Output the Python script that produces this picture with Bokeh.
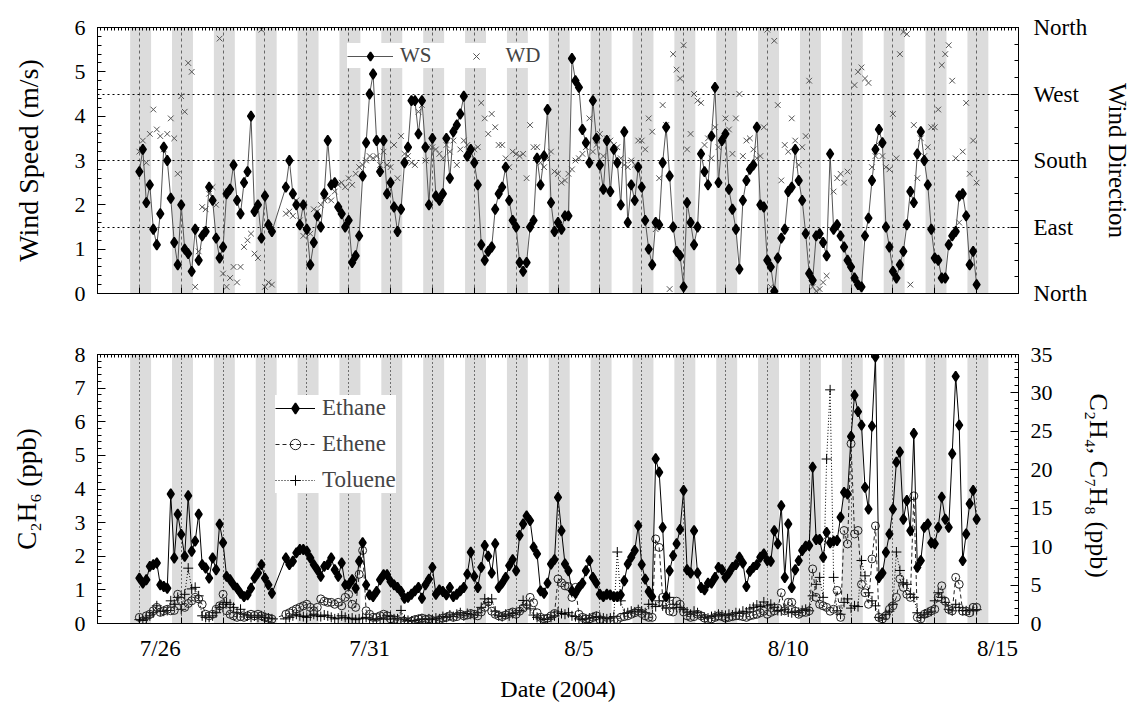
import math
from bokeh.plotting import figure
from bokeh.models import (Range1d, LinearAxis, FixedTicker, Legend, LegendItem, Grid)
from bokeh.layouts import column
from bokeh.embed import file_html
from bokeh.resources import INLINE

nan = float("nan")

# ---------------- data ----------------
STEP_H = 2                      # hours between samples, first sample 7/26 00:00
MIDNIGHTS = list(range(0, 21))  # days after 7/26 00:00
NIGHT_FROM, NIGHT_TO = -0.22, 0.28
LABEL_DAYS = [0, 5, 10, 15, 20]
DAY_LABELS = ["7/26", "7/31", "8/5", "8/10", "8/15"]

WS = [  # wind speed, m/s
    2.75, 3.25, 2.05, 2.45, 1.45, 1.1, 1.8, 3.3, 3.0, 2.15, 1.15, 0.65,
    2.0, 1.0, 0.9, 0.5, 1.45, 0.75, 1.3, 1.4, 2.4, 2.1, 1.25, 0.8,
    1.05, 2.25, 2.35, 2.9, 2.1, 1.8, 2.5, 2.75, 4.0, 1.85, 2.0, 1.25,
    2.2, 1.55, 1.4, nan, nan, nan, 2.4, 3.0, 2.25, 2.0, 1.55, 2.0,
    1.45, 0.65, 1.15, 1.75, 1.5, 2.25, 3.45, 2.45, 2.5, 1.95, 1.8, 1.5,
    1.65, 0.7, 0.85, 1.3, 2.65, 3.4, 4.5, 4.95, 3.45, 2.75, 3.45, 2.25,
    2.5, 1.95, 1.4, 1.9, 2.95, 3.3, 4.35, 4.35, 3.6, 4.35, 3.3, 2.0,
    3.5, 2.2, 2.1, 2.25, 3.5, 2.6, 3.65, 3.8, 4.05, 4.45, 3.1, 3.25,
    2.95, 2.45, 1.1, 0.75, 0.95, 1.05, 1.9, 2.25, 2.4, 2.85, 2.1, 1.65,
    1.5, 0.7, 0.5, 0.7, 1.5, 1.65, 3.05, 2.45, 3.1, 4.15, 2.05, 1.4,
    1.6, 1.45, 1.75, 1.75, 5.3, 4.8, 4.65, 3.7, 3.4, 2.95, 4.35, 3.5,
    2.9, 2.35, 3.45, 2.3, 3.25, 2.95, 2.0, 3.65, 1.6, 2.45, 2.1, 2.85,
    2.4, 1.65, 1.0, 0.65, 1.6, 1.55, 2.95, 3.75, 2.65, 1.5, 0.95, 0.85,
    0.15, 2.05, 1.6, 1.1, 1.5, 3.15, 2.75, 2.45, 3.55, 4.65, 2.5, 3.45,
    3.6, 2.35, 1.9, 1.45, 0.55, 2.1, 2.55, 2.8, 2.9, 3.75, 2.0, 1.95,
    0.75, 0.6, 0.05, 0.8, 1.25, 1.45, 2.3, 2.4, 3.25, 2.55, 2.1, 1.35,
    0.45, 0.3, 1.3, 1.35, 1.15, 0.85, 3.15, 1.45, 1.55, 1.3, 1.05, 0.75,
    0.6, 0.35, 0.2, 0.15, 1.3, 1.7, 2.55, 3.25, 3.7, 3.4, 1.5, 1.05,
    0.5, 0.35, 0.65, 0.95, 1.55, 2.3, 2.05, 3.15, 3.65, 3.0, 2.45, 1.45,
    0.8, 0.75, 0.35, 0.35, 1.1, 1.3, 1.4, 2.2, 2.25, 1.75, 0.65, 0.95,
    0.2,
]

WD = [  # wind direction, degrees
    192, 207, 177, 216, 249, 222, 213, 195, 216, 237, 210, 162,
    267, 246, 312, 300, 9, 57, 117, 114, 135, 144, 120, 345,
    27, 9, 21, 36, 15, 36, 63, 72, 81, 54, 48, 357,
    9, 15, 12, nan, nan, nan, 108, 111, 105, 126, 99, 78,
    84, 81, 114, 111, 120, 126, 129, 126, 138, 147, 150, 144,
    156, 147, 162, 171, 174, 180, 186, 183, 186, 174, 192, 174,
    171, 201, 156, 213, 189, 186, 177, 174, 246, 255, 180, 198,
    198, 195, 189, 183, 201, 192, 207, 174, 195, 207, 201, 189,
    195, 198, 258, 237, 216, 243, 225, 201, 201, 183, 171, 192,
    189, 186, 189, 156, 228, 198, 198, 177, 171, 183, 192, 165,
    162, 150, 153, 162, 168, 180, 183, 189, 198, 237, 192, 201,
    216, 186, 210, 207, 201, 198, 183, 174, 171, 180, 174, 207,
    207, 195, 237, 219, 87, 156, 255, 228, 6, 324, 303, 291,
    336, 195, 216, 270, 261, 258, 201, 210, 183, 225, 198, 207,
    237, 222, 189, 237, 270, 186, 207, 210, 195, 183, 186, 225,
    357, 9, 342, 255, 153, 201, 192, 237, 207, 174, 198, 213,
    288, 9, 3, 6, 15, 24, nan, 138, 156, 162, 150, 165,
    nan, 282, 300, 306, 291, 285, 171, 186, 201, 186, 171, 168,
    243, 183, 324, 354, 351, 12, 228, 156, 210, 186, 198, 225,
    225, 249, 309, 324, 336, 288, 183, 96, 192, 258, 162, 207,
    150,
]

ETHANE = [  # C2H6, ppb
    1.35, 1.2, 1.3, 1.7, 1.75, 1.8, 1.15, 1.1, 1.05, 3.85, 1.95, 3.25,
    2.65, 2.0, 3.8, 2.15, 2.45, 3.25, 1.75, 1.65, 1.35, 1.95, 1.6, 2.95,
    2.4, 1.4, 1.3, 1.15, 1.05, 0.9, 0.8, 0.85, 1.05, 1.35, 1.5, 1.75,
    1.35, 1.15, 0.9, nan, nan, nan, 1.95, 1.75, 1.85, 2.1, 2.2, 2.2,
    2.15, 1.95, 1.75, 1.6, 1.4, 1.7, 1.75, 1.95, 1.6, 1.4, 1.8, 1.15,
    1.15, 1.3, 1.05, 1.85, 2.4, 1.15, 0.85, 0.8, 0.95, 1.3, 1.45, 1.45,
    1.25, 1.15, 1.07, 0.95, 0.75, 0.78, 0.87, 0.97, 1.07, 0.75, 1.15, 1.32,
    1.67, 0.87, 1.0, 0.95, 0.85, 1.07, 0.8, 0.87, 0.97, 1.07, 1.47, 2.12,
    1.4, 1.07, 1.67, 2.32, 2.0, 1.5, 2.37, 1.07, 1.2, 1.37, 1.72, 1.9,
    1.57, 2.62, 2.96, 3.2, 3.06, 2.27, 2.07, 0.97, 0.9, 1.2, 1.77, 1.9,
    3.75, 2.76, 1.77, 1.57, 0.97, 0.9, 1.07, 1.2, 1.57, 1.87, 1.37, 1.2,
    0.87, 0.8, 0.87, 0.85, 0.8, 0.8, 0.85, 1.27, 1.77, 1.97, 2.17, 2.91,
    1.75, 1.32, 0.95, 0.8, 4.9, 4.5, 2.86, 0.8, 1.57, 2.02, 2.37, 2.8,
    3.96, 1.6, 1.5, 2.76, 1.5, 1.07, 1.0, 1.2, 1.2, 1.37, 1.67, 1.6,
    1.37, 1.5, 1.67, 1.75, 1.97, 1.8, 1.1, 1.55, 1.67, 1.75, 1.97, 2.07,
    1.87, 1.85, 2.76, 2.37, 3.5, 1.37, 2.96, 1.07, 1.6, 1.87, 2.17, 2.3,
    2.32, 4.65, 2.5, 2.5, 1.97, 2.71, 2.4, 2.45, 2.47, 3.16, 3.9, 3.85,
    5.56, 6.79, 6.3, 5.9, 4.05, 3.4, 5.87, 7.93, 1.37, 1.5, 2.12, 2.66,
    3.4, 4.8, 5.1, 3.1, 3.66, 2.76, 5.65, 1.67, 1.87, 2.86, 2.96, 2.4,
    2.37, 2.86, 3.76, 3.1, 2.86, 5.05, 7.35, 5.9, 1.87, 2.66, 3.56, 3.96,
    3.1,
]

ETHENE = [  # C2H4, ppb
    0.8, 0.35, 1.0, 1.2, 1.65, 2.1, 1.45, 1.65, 1.85, 1.65, 1.7, 3.8,
    2.95, 2.1, 2.6, 2.95, 3.4, 3.2, 2.5, 1.2, 1.0, 1.2, 1.85, 2.3,
    3.8, 1.65, 1.2, 1.0, 0.8, 0.9, 0.8, 1.0, 1.2, 1.0, 1.2, 1.0,
    0.8, 0.7, 0.57, nan, nan, nan, 1.2, 1.4, 1.65, 1.9, 2.1, 2.3,
    2.5, 2.1, 1.65, 2.1, 3.2, 2.9, 2.75, 2.75, 2.5, 2.75, 2.3, 3.4,
    3.8, 2.5, 2.1, 6.4, 9.5, 1.65, 1.2, 0.8, 0.8, 1.0, 1.2, 1.0,
    0.6, 0.5, 0.4, 0.3, 0.3, 0.2, 0.3, 0.5, 0.6, 0.7, 0.5, 0.6,
    0.4, 0.3, 0.5, 0.7, 0.8, 1.0, 0.8, 0.9, 1.2, 1.0, 1.1, 1.3,
    1.2, 1.0, 1.5, 2.1, 2.8, 1.6, 1.2, 1.0, 0.9, 1.1, 1.3, 1.5,
    1.2, 1.6, 2.0, 2.5, 3.4, 2.7, 1.4, 0.8, 0.6, 0.7, 1.0, 1.3,
    5.8, 5.3, 4.9, 4.8, 3.4, 4.7, 1.2, 0.8, 0.6, 0.6, 0.8, 1.0,
    0.5, 0.4, 0.3, 0.3, 0.4, 0.5, 0.8, 0.9, 1.0, 1.2, 1.4, 1.6,
    1.3, 1.0, 0.8, 0.8, 11.0, 9.9, 3.4, 2.5, 1.6, 1.5, 2.9, 2.5,
    1.5, 1.0, 0.8, 0.9, 1.2, 1.0, 0.7, 0.5, 0.6, 0.8, 1.0, 0.9,
    0.7, 0.8, 0.9, 1.0, 1.0, 0.9, 0.8, 1.0, 1.1, 1.2, 1.4, 1.6,
    1.2, 1.45, 1.65, 2.0, 4.0, 1.65, 2.75, 2.75, 1.6, 1.2, 1.45, 1.45,
    1.65, 7.1, 3.4, 2.5, 2.3, 2.1, 1.6, 1.85, 4.3, 0.8, 12.1, 10.35,
    23.4, 11.65, 12.1, 5.1, 4.0, 2.5, 8.4, 12.7, 0.8, 0.6, 1.0, 1.85,
    2.3, 3.4, 5.8, 4.7, 3.8, 3.4, 16.6, 0.8, 0.6, 1.2, 1.4, 1.65,
    1.85, 3.4, 4.9, 2.9, 1.85, 1.65, 6.0, 5.1, 1.6, 1.6, 1.4, 2.1,
    2.1,
]

TOLUENE = [  # C7H8, ppb
    0.5, 0.4, 0.7, 1.0, 1.4, 2.3, 1.6, 1.6, 1.7, 2.95, 2.5, 3.4,
    1.85, 3.8, 7.2, 4.5, 4.7, 3.6, 1.0, 0.8, 0.8, 1.0, 1.4, 2.1,
    2.5, 2.75, 2.5, 2.1, 1.4, 1.85, 1.2, 1.0, 0.8, 1.0, 0.8, 1.0,
    0.8, 0.7, 0.6, nan, nan, nan, 0.6, 0.8, 1.0, 1.2, 1.0, 0.9,
    0.8, 1.0, 1.2, 1.0, 0.9, 1.1, 1.0, 0.8, 0.6, 0.7, 1.0, 0.8,
    0.6, 0.7, 0.5, 0.6, 0.7, 0.8, 0.6, 0.5, 0.6, 0.7, 0.6, 1.0,
    0.9, 0.6, 0.6, 1.7, 0.5, 0.4, 0.3, 0.4, 0.5, 0.6, 0.5, 0.6,
    0.5, 0.7, 0.6, 0.9, 0.8, 1.1, 0.9, 1.2, 1.4, 1.0, 1.3, 1.2,
    1.1, 1.4, 2.1, 3.2, 2.75, 3.2, 1.6, 1.0, 0.9, 1.2, 1.0, 1.3,
    1.4, 1.7, 3.0, 2.4, 1.9, 1.1, 0.8, 0.6, 0.5, 0.6, 0.8, 1.0,
    1.5, 1.3, 1.2, 1.4, 1.0, 0.9, 0.6, 0.5, 0.6, 0.7, 0.8, 0.9,
    0.8, 0.7, 0.6, 0.7, 0.9, 9.3, 2.95, 1.3, 1.4, 1.6, 1.5, 1.8,
    1.6, 1.4, 2.5, 2.5, 2.2, 2.95, 2.3, 2.0, 3.4, 2.5, 2.1, 2.1,
    1.8, 1.5, 1.2, 1.6, 1.4, 1.0, 0.8, 0.7, 0.9, 1.0, 1.2, 1.1,
    1.0, 1.2, 1.1, 1.4, 1.3, 1.6, 1.5, 1.9, 2.1, 2.4, 2.2, 2.8,
    2.3, 2.5, 2.1, 1.7, 1.65, 1.85, 1.5, 1.4, 1.6, 1.45, 1.7, 1.85,
    1.65, 3.6, 5.1, 6.0, 3.4, 21.4, 30.4, 6.0, 1.65, 1.2, 2.75, 3.2,
    2.0, 2.3, 2.2, 8.2, 6.2, 4.0, 2.95, 2.3, 0.8, 0.6, 1.2, 1.6,
    2.5, 9.3, 6.9, 5.3, 5.1, 3.8, 3.4, 1.4, 0.8, 1.2, 1.4, 1.6,
    2.95, 4.0, 3.4, 2.75, 1.85, 1.65, 2.5, 2.1, 1.7, 1.65, 1.75, 1.7,
    1.8,
]

# ---------------- helpers ----------------
FONT = "Liberation Serif"
T = [i * STEP_H / 24.0 for i in range(len(WS))]
TWO_HOURLY = [i * STEP_H / 24.0 for i in range(-12, 253)]


def valid(xs, ys):
    pts = [(x, y) for x, y in zip(xs, ys) if not math.isnan(y)]
    return [p[0] for p in pts], [p[1] for p in pts]


def style_axis(ax, size="22px", label_size="26px"):
    ax.major_label_text_font = FONT
    ax.major_label_text_font_size = size
    ax.major_label_text_color = "black"
    ax.axis_label_text_font = FONT
    ax.axis_label_text_font_style = "normal"
    ax.axis_label_text_font_size = label_size
    ax.axis_label_text_color = "black"
    ax.axis_line_color = "black"
    ax.major_tick_line_color = "black"
    ax.minor_tick_line_color = "black"
    ax.major_tick_out = 0
    ax.minor_tick_out = 0


def add_x_axes(p, show_labels):
    label_pos = [d + 0.5 for d in LABEL_DAYS]
    if show_labels:
        below = LinearAxis(ticker=FixedTicker(ticks=label_pos, minor_ticks=MIDNIGHTS))
        style_axis(below, size="23px")
        below.major_label_overrides = {lp: lab for lp, lab in zip(label_pos, DAY_LABELS)}
        below.axis_label = "Date (2004)"
        below.axis_label_text_font_size = "24px"
        below.axis_label_standoff = 12
        below.major_label_standoff = 12
    else:
        below = LinearAxis(ticker=FixedTicker(ticks=[], minor_ticks=MIDNIGHTS))
        style_axis(below)
    below.major_tick_in = 0
    below.minor_tick_in = 6
    p.add_layout(below, "below")
    above = LinearAxis(ticker=FixedTicker(ticks=[], minor_ticks=TWO_HOURLY))
    style_axis(above)
    above.minor_tick_in = 3
    p.add_layout(above, "above")


def base_figure(frame_h, ymax, top, bottom):
    p = figure(frame_width=921, frame_height=frame_h,
               x_range=Range1d(-1, 21), y_range=Range1d(0, ymax),
               x_axis_type=None, y_axis_type=None,
               output_backend="svg", toolbar_location=None,
               min_border_left=97, min_border_right=113,
               min_border_top=top, min_border_bottom=bottom)
    p.outline_line_color = "black"
    p.outline_line_width = 1
    p.outline_line_alpha = 1
    p.background_fill_color = "white"
    p.border_fill_color = "white"
    p.quad(left=[m + NIGHT_FROM for m in MIDNIGHTS], right=[m + NIGHT_TO for m in MIDNIGHTS],
           bottom=0, top=ymax, fill_color="#dcdcdc", line_color=None, level="image")
    return p


# ---------------- top panel ----------------
p1 = base_figure(266, 6, 27, 25)
p1.extra_y_ranges = {"wd": Range1d(0, 360)}
p1.add_layout(Grid(dimension=0, ticker=FixedTicker(ticks=MIDNIGHTS),
                   grid_line_color="#666666", grid_line_dash="3 3", grid_line_width=1))
p1.add_layout(Grid(dimension=1, ticker=FixedTicker(ticks=[1.5, 3, 4.5]),
                   grid_line_color="black", grid_line_dash="2 3", grid_line_width=1))

axl = LinearAxis(ticker=FixedTicker(ticks=list(range(7)), minor_ticks=[i * 0.2 for i in range(31)]),
                 axis_label="Wind Speed (m/s)")
style_axis(axl, label_size="28px")
axl.major_tick_in = 8
axl.minor_tick_in = 4
axl.major_label_standoff = 12
axl.axis_label_standoff = 28
p1.add_layout(axl, "left")

axr = LinearAxis(y_range_name="wd",
                 ticker=FixedTicker(ticks=[0, 90, 180, 270, 360], minor_ticks=[i * 22.5 for i in range(17)]),
                 axis_label="Wind Direction",
                 major_label_overrides={0: "North", 90: "East", 180: "South", 270: "West", 360: "North"})
style_axis(axr, size="23px", label_size="25px")
axr.major_tick_in = 8
axr.minor_tick_in = 4
axr.major_label_standoff = 15
axr.axis_label_standoff = 14
p1.add_layout(axr, "right")
add_x_axes(p1, False)

wx, wy = valid(T, WD)
wd_pts = p1.scatter(wx, wy, y_range_name="wd", marker="x", size=8, line_color="#555555", line_width=1)
sx, sy = valid(T, WS)
ws_line = p1.line(sx, sy, line_color="#555555", line_width=1)
ws_pts = p1.scatter(sx, sy, marker="diamond", size=10, line_width=1.6,
                    fill_color="black", line_color="black")

leg1 = Legend(items=[LegendItem(label="WS", renderers=[ws_line, ws_pts]),
                     LegendItem(label="WD", renderers=[wd_pts])],
              orientation="horizontal", location=(250, 225),
              glyph_width=46, glyph_height=22, label_height=22, label_standoff=7, spacing=21,
              padding=9, margin=0, label_text_font=FONT, label_text_font_size="21px",
              background_fill_color="white", background_fill_alpha=1, border_line_color=None)
p1.add_layout(leg1)

# ---------------- bottom panel ----------------
p2 = base_figure(269, 8, 36, 76)
p2.extra_y_ranges = {"r": Range1d(0, 35)}
p2.add_layout(Grid(dimension=0, ticker=FixedTicker(ticks=MIDNIGHTS),
                   grid_line_color="black", grid_line_dash="1 3", grid_line_width=1))

bl = LinearAxis(ticker=FixedTicker(ticks=list(range(9)), minor_ticks=[i * 0.2 for i in range(41)]),
                axis_label="C\u2082H\u2086 (ppb)")
style_axis(bl, label_size="27px")
bl.major_tick_in = 8
bl.minor_tick_in = 4
bl.major_label_standoff = 12
bl.axis_label_standoff = 30
p2.add_layout(bl, "left")

br = LinearAxis(y_range_name="r",
                ticker=FixedTicker(ticks=list(range(0, 36, 5)), minor_ticks=list(range(36))),
                axis_label="C\u2082H\u2084, C\u2087H\u2088  (ppb)")
style_axis(br, label_size="26px")
br.major_tick_in = 8
br.minor_tick_in = 4
br.major_label_standoff = 12
br.axis_label_standoff = 28
p2.add_layout(br, "right")
add_x_axes(p2, True)

tx, ty = valid(T, TOLUENE)
tol_line = p2.line(tx, ty, y_range_name="r", line_color="black", line_width=1, line_dash="1 2")
tol_pts = p2.scatter(tx, ty, y_range_name="r", marker="cross", size=10, line_color="black", line_width=1)
ex, ey = valid(T, ETHENE)
eth_line = p2.line(ex, ey, y_range_name="r", line_color="#222222", line_width=1, line_dash="4 3")
eth_pts = p2.scatter(ex, ey, y_range_name="r", marker="circle", size=8,
                     fill_color=None, line_color="#222222", line_width=1)
ax_, ay_ = valid(T, ETHANE)
ea_line = p2.line(ax_, ay_, line_color="black", line_width=1)
ea_pts = p2.scatter(ax_, ay_, marker="diamond", size=10, line_width=1.6,
                    fill_color="black", line_color="black")

leg2 = Legend(items=[LegendItem(label="Ethane", renderers=[ea_line, ea_pts]),
                     LegendItem(label="Ethene", renderers=[eth_line, eth_pts]),
                     LegendItem(label="Toluene", renderers=[tol_line, tol_pts])],
              orientation="vertical", location=(178, 130),
              glyph_width=40, glyph_height=26, label_height=26, label_standoff=7, spacing=10,
              padding=8, margin=0, label_text_font=FONT, label_text_font_size="23px",
              background_fill_color="white", background_fill_alpha=1, border_line_color=None)
p2.add_layout(leg2)

layout = column(p1, p2, spacing=0)
open("out.html", "w").write(file_html(layout, INLINE))
